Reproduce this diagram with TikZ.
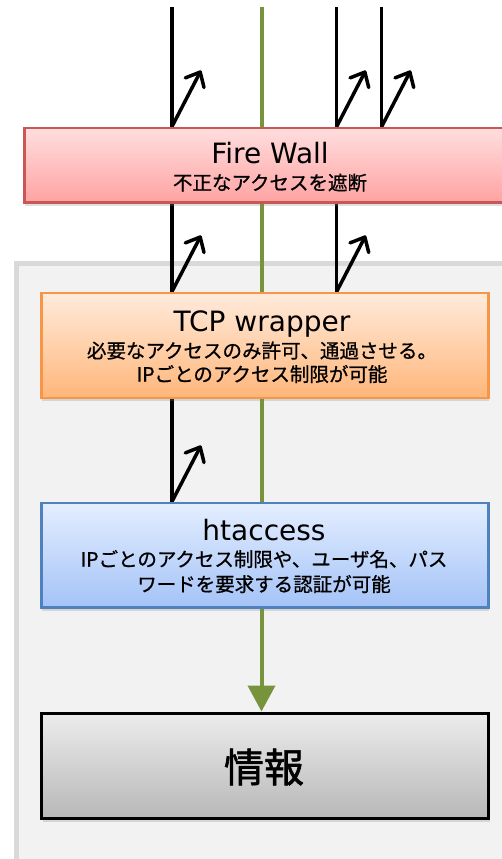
\documentclass[tikz,border=0pt]{standalone}
\usepackage{fontspec}
\setmainfont{DejaVu Sans}
\newfontfamily\jp{Noto Sans CJK JP}[FakeBold=0.8]
\newfontfamily\jpb{Noto Sans CJK JP}[FakeBold=1.5]
\usetikzlibrary{arrows.meta,shadows}
\definecolor{panelfill}{RGB}{242,242,242}
\definecolor{paneldraw}{RGB}{217,217,217}
\definecolor{fwtop}{RGB}{255,222,222}
\definecolor{fwbot}{RGB}{255,163,163}
\definecolor{fwdraw}{RGB}{200,88,86}
\definecolor{tcptop}{RGB}{255,235,220}
\definecolor{tcpbot}{RGB}{255,182,122}
\definecolor{tcpdraw}{RGB}{247,150,70}
\definecolor{httop}{RGB}{228,238,255}
\definecolor{htbot}{RGB}{164,195,247}
\definecolor{htdraw}{RGB}{79,129,189}
\definecolor{inftop}{RGB}{236,236,236}
\definecolor{infbot}{RGB}{184,184,184}
\definecolor{grn}{RGB}{119,147,60}
\pgfdeclarelayer{back}
\pgfdeclarelayer{lines}
\pgfsetlayers{back,lines,main}
\begin{document}
\begin{tikzpicture}[x=1pt,y=-1pt,
  box/.style={rectangle,anchor=north west,inner sep=0pt,line width=2.5pt,
    drop shadow={shadow xshift=1pt,shadow yshift=-3.5pt,opacity=0.25}},
  ttl/.style={anchor=base,inner sep=0pt,font=\fontsize{28}{30}\selectfont},
  sub/.style={anchor=base,inner sep=0pt,font=\jp\fontsize{19.5}{24}\selectfont},
  blk/.style={line width=3.5pt,black},
  acc/.style={line width=3.5pt,black,line cap=round,line join=round,
    -{Straight Barb[length=12pt,width=21pt,line width=3.5pt,round]}},
  grnln/.style={line width=4pt,grn,-{Triangle[length=26pt,width=27pt]}}]
\useasboundingbox (0,0) rectangle (501,859);
\begin{pgfonlayer}{back}
\fill[white] (0,0) rectangle (501,859);
\node[rectangle,anchor=north west,inner sep=0pt,draw=paneldraw,fill=panelfill,
  line width=4.5pt,minimum width=520pt,minimum height=640pt] (panel) at (14.3,261) {};
\end{pgfonlayer}

\node[box,draw=fwdraw,top color=fwtop,bottom color=fwbot,
  minimum width=494pt,minimum height=74.5pt] (fw) at (23,126.5) {};
\node[box,draw=tcpdraw,top color=tcptop,bottom color=tcpbot,
  minimum width=447pt,minimum height=105pt] (tcp) at (40,291.5) {};
\node[box,draw=htdraw,top color=httop,bottom color=htbot,
  minimum width=447pt,minimum height=104.5pt] (ht) at (40,501.5) {};
\node[box,draw=black,line width=3pt,top color=inftop,bottom color=infbot,
  minimum width=447pt,minimum height=105pt] (info) at (40,711.5) {};

\node[ttl] (fwT) at (270,163) {Fire Wall};
\node[sub] (fwS) at (270,190) {不正なアクセスを遮断};
\node[ttl] (tcpT) at (262,331) {TCP wrapper};
\node[sub] (tcpS1) at (262,358) {必要なアクセスのみ許可、通過させる。};
\node[sub] (tcpS2) at (262,381.5) {IPごとのアクセス制限が可能};
\node[ttl] (htT) at (264,540) {htaccess};
\node[sub] (htS1) at (264,566.5) {IPごとのアクセス制限や、ユーザ名、パス};
\node[sub] (htS2) at (264,591.5) {ワードを要求する認証が可能};
\node[anchor=center,inner sep=0pt,font=\jpb\fontsize{40}{44}\selectfont] (infT) at (264,767) {情報};

\coordinate (a) at (172,7);
\coordinate (b) at (336.7,7);
\coordinate (c) at (381.7,7);
\coordinate (g) at (261.5,7);

\begin{pgfonlayer}{lines}
\draw[grnln] (g) -- (g |- info.north);
\draw[blk] (a) -- (a |- fw.north);
\draw[blk] (b) -- (b |- fw.north);
\draw[blk] (c) -- (c |- fw.north);
\draw[blk] (a |- fw.south) -- (a |- tcp.north);
\draw[blk] (b |- fw.south) -- (b |- tcp.north);
\draw[blk] (a |- tcp.south) -- (a |- ht.north);
\draw[acc] (a |- fw.north) -- ++(29,-56);
\draw[acc] (b |- fw.north) -- ++(29,-56);
\draw[acc] (c |- fw.north) -- ++(29,-56);
\draw[acc] (a |- tcp.north) -- ++(29,-56);
\draw[acc] (b |- tcp.north) -- ++(29,-56);
\draw[acc] (a |- ht.north) -- ++(29,-56);
\end{pgfonlayer}
\end{tikzpicture}
\end{document}
